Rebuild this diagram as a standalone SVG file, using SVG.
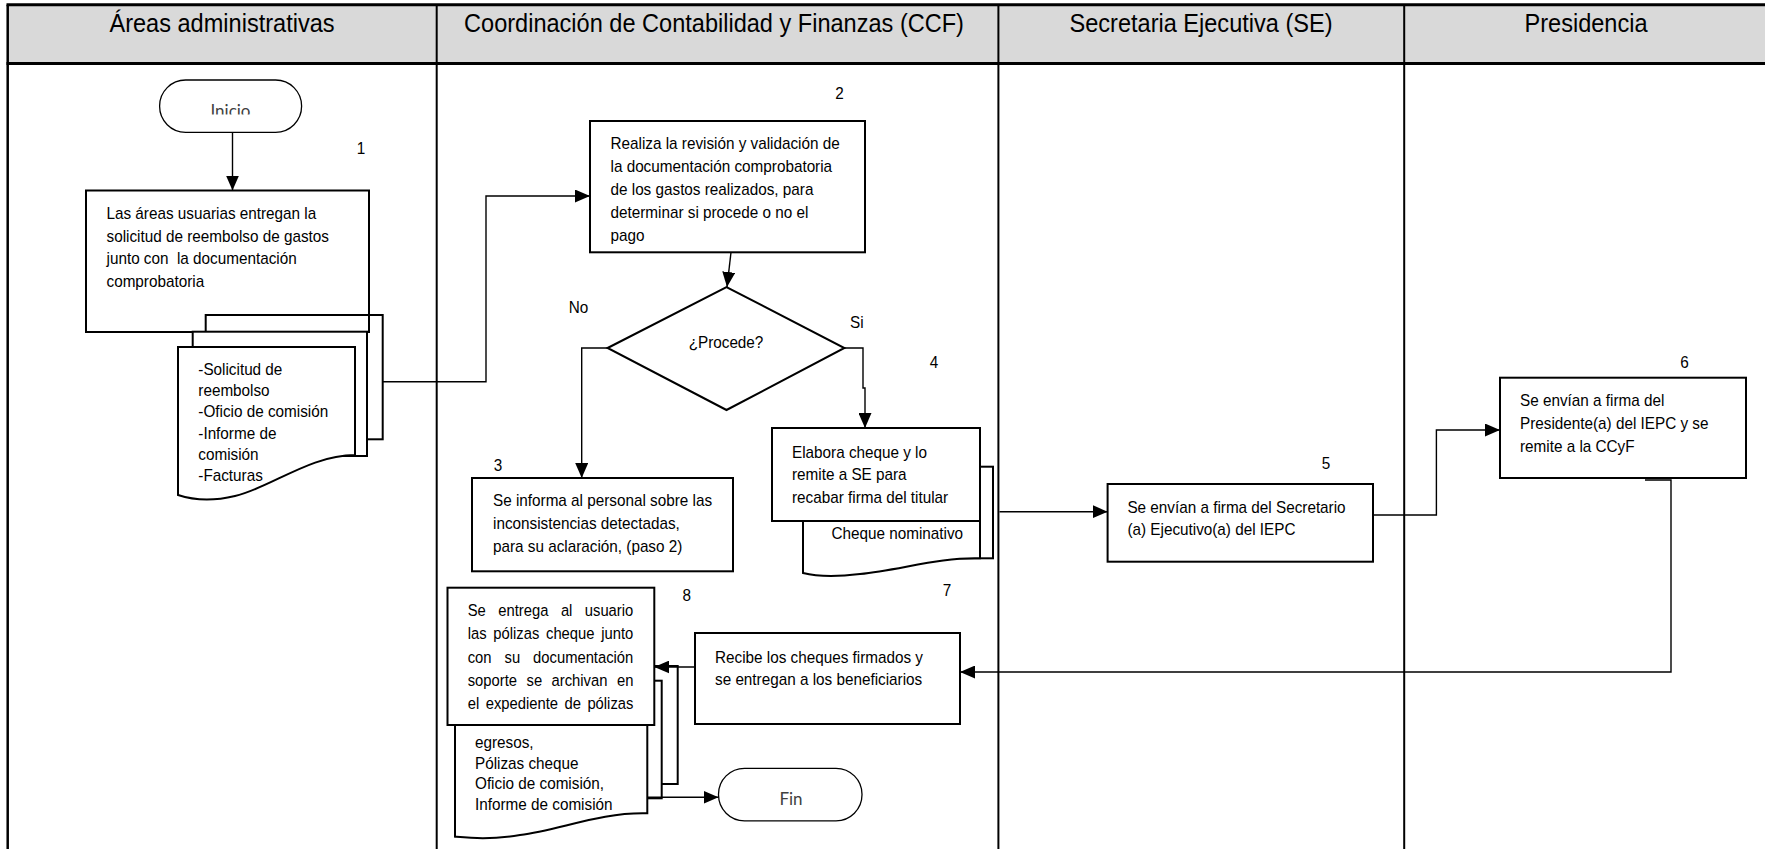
<svg xmlns="http://www.w3.org/2000/svg" width="1765" height="849" viewBox="0 0 1765 849">
<style>
.bd{fill:none;stroke:#000;stroke-width:2}
.box{fill:#fff;stroke:#000;stroke-width:2}
.pg{fill:#fff;stroke:#000;stroke-width:2}
.cn{fill:none;stroke:#000;stroke-width:1.4}
.t{font-family:"Liberation Sans",Arial,sans-serif;font-size:16.8px;fill:#000}
.n{text-anchor:middle}
.h{font-family:"Liberation Sans",Arial,sans-serif;font-size:26px;fill:#000;text-anchor:middle}
.term{fill:#fff;stroke:#000;stroke-width:1.3}
.tt{font-family:Lato,"Open Sans",sans-serif;font-size:17px;fill:#404040;text-anchor:middle}
</style>
<defs>
<marker id="ah" markerUnits="userSpaceOnUse" markerWidth="15" markerHeight="13" viewBox="0 0 15 13" refX="15" refY="6.5" orient="auto">
<path d="M0,0 L15,6.5 L0,13 Z" fill="#000"/>
</marker>
<clipPath id="clipInicio"><rect x="150" y="80" width="160" height="34.5"/></clipPath>
</defs>
<rect x="0" y="0" width="1765" height="849" fill="#fff"/>
<g id="lanes">
<rect x="7.7" y="4.7" width="1757.3" height="58.8" fill="#d9d9d9"/>
<line x1="6.5" y1="4.7" x2="1765" y2="4.7" stroke="#000" stroke-width="3"/>
<line x1="6.5" y1="63.5" x2="1765" y2="63.5" stroke="#000" stroke-width="3"/>
<line x1="7.7" y1="4.7" x2="7.7" y2="849" stroke="#000" stroke-width="2.5"/>
<line x1="436.7" y1="4.7" x2="436.7" y2="849" stroke="#000" stroke-width="2"/>
<line x1="998.4" y1="4.7" x2="998.4" y2="849" stroke="#000" stroke-width="2"/>
<line x1="1404.2" y1="4.7" x2="1404.2" y2="849" stroke="#000" stroke-width="2"/>
<text class="h" transform="translate(222,32) scale(0.906,1)">Áreas administrativas</text>
<text class="h" transform="translate(714,32) scale(0.906,1)">Coordinación de Contabilidad y Finanzas (CCF)</text>
<text class="h" transform="translate(1201,32) scale(0.906,1)">Secretaria Ejecutiva (SE)</text>
<text class="h" transform="translate(1586,32) scale(0.906,1)">Presidencia</text>
</g>
<g id="n-inicio">
<rect class="term" x="159.6" y="80" width="142" height="52.3" rx="26" ry="26"/>
<text class="tt" x="230.5" y="117" clip-path="url(#clipInicio)">Inicio</text>
</g>
<g id="n-step1">
<rect class="box" x="86" y="190.5" width="283" height="141.5"/>
<text class="t" transform="translate(106.5,219) scale(0.91,1)"><tspan x="0" y="0">Las áreas usuarias entregan la</tspan><tspan x="0" y="22.7">solicitud de reembolso de gastos</tspan><tspan x="0" y="45.4">junto con&#160; la documentación</tspan><tspan x="0" y="68.1">comprobatoria</tspan></text>
</g>
<g id="n-docs1">
<rect class="bd" x="205.7" y="315" width="177" height="124.3"/>
<rect class="pg" x="192.7" y="331.7" width="174.3" height="124.3"/>
<path class="pg" d="M178,347 H355 V455 C310,455 270,488 235,496 C210,502 190,499 178,495 Z"/>
<text class="t" transform="translate(198.3,374.7) scale(0.91,1)"><tspan x="0" y="0">-Solicitud de</tspan><tspan x="0" y="21.3">reembolso</tspan><tspan x="0" y="42.6">-Oficio de comisión</tspan><tspan x="0" y="63.9">-Informe de</tspan><tspan x="0" y="85.2">comisión</tspan><tspan x="0" y="106.5">-Facturas</tspan></text>
</g>
<g id="n-step2">
<rect class="box" x="590" y="121" width="275" height="131.3"/>
<text class="t" transform="translate(610.5,149) scale(0.91,1)"><tspan x="0" y="0">Realiza la revisión y validación de</tspan><tspan x="0" y="23">la documentación comprobatoria</tspan><tspan x="0" y="46">de los gastos realizados, para</tspan><tspan x="0" y="69">determinar si procede o no el</tspan><tspan x="0" y="92">pago</tspan></text>
</g>
<g id="n-decision">
<polygon class="box" points="607.6,348 726.5,287 844.4,348 726.5,410"/>
<text class="t n" transform="translate(726,347.5) scale(0.91,1)">¿Procede?</text>
</g>
<g id="n-step3">
<rect class="box" x="472" y="478" width="261" height="93.3"/>
<text class="t" transform="translate(493,506) scale(0.91,1)"><tspan x="0" y="0">Se informa al personal sobre las</tspan><tspan x="0" y="23">inconsistencias detectadas,</tspan><tspan x="0" y="46">para su aclaración, (paso 2)</tspan></text>
</g>
<g id="n-cheque">
<rect class="pg" x="812" y="466.7" width="181" height="91.6"/>
<path class="pg" d="M803,441 H980 V558.3 C940,557 900,570 860,574 C835,577 815,576 803,573 Z"/>
<text class="t" transform="translate(831.5,539) scale(0.91,1)">Cheque nominativo</text>
</g>
<g id="n-step4">
<rect class="box" x="772" y="428" width="208" height="93"/>
<text class="t" transform="translate(792,458) scale(0.91,1)"><tspan x="0" y="0">Elabora cheque y lo</tspan><tspan x="0" y="22.5">remite a SE para</tspan><tspan x="0" y="45">recabar firma del titular</tspan></text>
</g>
<g id="n-step5">
<rect class="box" x="1107.6" y="484" width="265.4" height="77.7"/>
<text class="t" transform="translate(1127.4,512.7) scale(0.91,1)"><tspan x="0" y="0">Se envían a firma del Secretario</tspan><tspan x="0" y="22.8">(a) Ejecutivo(a) del IEPC</tspan></text>
</g>
<g id="n-step6">
<rect class="box" x="1500" y="377.7" width="246" height="100.3"/>
<text class="t" transform="translate(1520,406) scale(0.91,1)"><tspan x="0" y="0">Se envían a firma del</tspan><tspan x="0" y="23">Presidente(a) del IEPC y se</tspan><tspan x="0" y="46">remite a la CCyF</tspan></text>
</g>
<g id="n-step7">
<rect class="box" x="695" y="633" width="265" height="91"/>
<text class="t" transform="translate(715,663) scale(0.91,1)"><tspan x="0" y="0">Recibe los cheques firmados y</tspan><tspan x="0" y="22.5">se entregan a los beneficiarios</tspan></text>
</g>
<g id="n-docs8">
<rect class="pg" x="470" y="666" width="207.7" height="118"/>
<rect class="pg" x="462" y="680.7" width="199.7" height="117.6"/>
<path class="pg" d="M455,695 H647.3 V813.3 C600,812 560,830 520,835 C490,840 470,838 455,836.7 Z"/>
<text class="t" transform="translate(475,748) scale(0.91,1)"><tspan x="0" y="0">egresos,</tspan><tspan x="0" y="20.7">Pólizas cheque</tspan><tspan x="0" y="41.4">Oficio de comisión,</tspan><tspan x="0" y="62.1">Informe de comisión</tspan></text>
</g>
<g id="n-step8">
<rect class="box" x="447.5" y="587.7" width="206.8" height="137.3"/>
<text class="t" transform="translate(467.7,616) scale(0.88,1)">Se</text>
<text class="t" transform="translate(498.3,616) scale(0.88,1)">entrega</text>
<text class="t" transform="translate(560.9,616) scale(0.88,1)">al</text>
<text class="t" transform="translate(584.8,616) scale(0.88,1)">usuario</text>
<text class="t" transform="translate(467.7,639.3) scale(0.88,1)">las</text>
<text class="t" transform="translate(493.3,639.3) scale(0.88,1)">pólizas</text>
<text class="t" transform="translate(546,639.3) scale(0.88,1)">cheque</text>
<text class="t" transform="translate(601.3,639.3) scale(0.88,1)">junto</text>
<text class="t" transform="translate(467.7,662.7) scale(0.88,1)">con</text>
<text class="t" transform="translate(504.5,662.7) scale(0.88,1)">su</text>
<text class="t" transform="translate(533.1,662.7) scale(0.88,1)">documentación</text>
<text class="t" transform="translate(467.7,686) scale(0.88,1)">soporte</text>
<text class="t" transform="translate(526.5,686) scale(0.88,1)">se</text>
<text class="t" transform="translate(551.6,686) scale(0.88,1)">archivan</text>
<text class="t" transform="translate(617,686) scale(0.88,1)">en</text>
<text class="t" transform="translate(467.7,708.7) scale(0.88,1)">el</text>
<text class="t" transform="translate(485.7,708.7) scale(0.88,1)">expediente</text>
<text class="t" transform="translate(564.5,708.7) scale(0.88,1)">de</text>
<text class="t" transform="translate(587.4,708.7) scale(0.88,1)">pólizas</text>
</g>
<g id="n-fin">
<rect class="term" x="718.5" y="768.3" width="143.5" height="52.5" rx="26" ry="26"/>
<text class="tt" x="791" y="805">Fin</text>
</g>
<g id="labels">
<text class="t n" transform="translate(361,154) scale(0.91,1)">1</text>
<text class="t n" transform="translate(839.5,99) scale(0.91,1)">2</text>
<text class="t n" transform="translate(498,471) scale(0.91,1)">3</text>
<text class="t n" transform="translate(934,368) scale(0.91,1)">4</text>
<text class="t n" transform="translate(1326,469) scale(0.91,1)">5</text>
<text class="t n" transform="translate(1684.5,368) scale(0.91,1)">6</text>
<text class="t n" transform="translate(947,596) scale(0.91,1)">7</text>
<text class="t n" transform="translate(686.7,601) scale(0.91,1)">8</text>
<text class="t" transform="translate(568.7,312.5) scale(0.91,1)">No</text>
<text class="t" transform="translate(850,328) scale(0.91,1)">Si</text>
</g>
<g id="connectors">
<path class="cn" d="M232.5,132.3 V190.5" marker-end="url(#ah)"/>
<path class="cn" d="M382.7,381.7 H486 V196 H590" marker-end="url(#ah)"/>
<path class="cn" d="M731,252.3 L727,287" marker-end="url(#ah)"/>
<path class="cn" d="M607.6,348 H581.7 V478" marker-end="url(#ah)"/>
<path class="cn" d="M844.4,348 H863 V388 H865 V428" stroke-width="1.8" marker-end="url(#ah)"/>
<path class="cn" d="M999.5,511.7 H1107.6" marker-end="url(#ah)"/>
<path class="cn" d="M1373,515 H1436.4 V430 H1500" stroke-width="2.5" marker-end="url(#ah)"/>
<path class="cn" d="M1645,480 H1671 V672 H960" stroke="#8c8c8c" stroke-width="1.2" marker-end="url(#ah)"/>
<path class="cn" d="M695,667 H654.3" marker-end="url(#ah)"/>
<path class="cn" d="M647.3,797.3 H718.5" marker-end="url(#ah)"/>
</g>
</svg>
